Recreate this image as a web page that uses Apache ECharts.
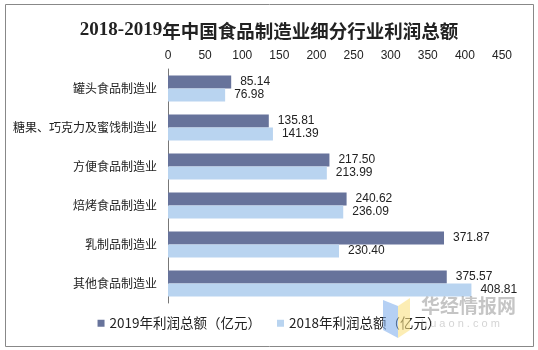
<!DOCTYPE html>
<html>
<head>
<meta charset="utf-8">
<script src="https://cdn.jsdelivr.net/npm/echarts@6/dist/echarts.min.js"></script>
<style>
html,body{margin:0;padding:0;background:#fff;}
#main{width:538px;height:350px;}
</style>
</head>
<body>
<div id="main"></div>
<script>
var categories = ['罐头食品制造业', '糖果、巧克力及蜜饯制造业', '方便食品制造业', '焙烤食品制造业', '乳制品制造业', '其他食品制造业'];
var profit2019 = [85.14, 135.81, 217.50, 240.62, 371.87, 375.57];
var profit2018 = [76.98, 141.39, 213.99, 236.09, 230.40, 408.81];
var seriesNames = ['2019年利润总额（亿元）', '2018年利润总额（亿元）'];
var xTicks = { min: 0, max: 450, interval: 50 };

var chart = echarts.init(document.getElementById('main'));
var labelStyle = {
  show: true, position: 'right', distance: 9,
  fontSize: 12, color: '#222', fontFamily: 'Liberation Sans, Arial, sans-serif',
  formatter: function (p) { return p.value.toFixed(2); }
};
chart.setOption({
  backgroundColor: '#fff',
  animation: false,
  title: {
    text: '{a|2018-2019}{b|年中国食品制造业细分行业利润总额}',
    left: 'center', top: 16,
    textStyle: {
      rich: {
        a: { fontSize: 19, fontWeight: 'bold', fontFamily: 'Liberation Serif, serif', color: '#222' },
        b: { fontSize: 18.5, fontWeight: 'bold', fontFamily: 'Noto Sans CJK SC', color: '#222' }
      }
    }
  },
  legend: {
    data: seriesNames,
    bottom: 15, left: 'center',
    icon: 'rect', itemWidth: 7, itemHeight: 7, itemGap: 16,
    textStyle: { fontSize: 13.5, color: '#222', fontFamily: 'Noto Sans CJK SC' }
  },
  grid: { left: 168, right: 36, top: 69, bottom: 47, containLabel: false },
  xAxis: {
    type: 'value', position: 'top',
    min: xTicks.min, max: xTicks.max, interval: xTicks.interval,
    axisLine: { show: false }, axisTick: { show: false }, splitLine: { show: false },
    axisLabel: { fontSize: 12, color: '#222', margin: 7, fontFamily: 'Liberation Sans, Arial, sans-serif' }
  },
  yAxis: {
    type: 'category', inverse: true, data: categories,
    axisLine: { show: true, lineStyle: { color: '#777', width: 1 } },
    axisTick: { show: false },
    axisLabel: { fontSize: 12, color: '#222', margin: 11, fontFamily: 'Noto Sans CJK SC' }
  },
  series: [
    { name: seriesNames[0], type: 'bar', data: profit2019, barWidth: 13, barGap: '0%',
      itemStyle: { color: '#67739B' }, label: labelStyle },
    { name: seriesNames[1], type: 'bar', data: profit2018, barWidth: 13, barGap: '0%',
      itemStyle: { color: '#B9D4F0' }, label: labelStyle }
  ],
  graphic: [
    { type: 'rect', shape: { x: 5.5, y: 4.5, width: 528, height: 342 }, style: { fill: 'none', stroke: '#888', lineWidth: 1 }, silent: true, z: 100 },
    { type: 'polygon', shape: { points: [[383, 300], [398, 306], [398, 338], [383, 330]] }, style: { fill: 'rgba(120,170,235,0.55)' }, silent: true, z: 50 },
    { type: 'polygon', shape: { points: [[398, 306], [410, 298], [410, 330], [398, 338]] }, style: { fill: 'rgba(250,225,130,0.6)' }, silent: true, z: 50 },
    { type: 'text', left: 421, top: 296, style: { text: '华经情报网', fontSize: 19, fontWeight: 'bold', fill: 'rgba(150,150,150,0.55)', fontFamily: 'Noto Sans CJK SC' }, silent: true, z: 50 },
    { type: 'text', left: 421, top: 318, style: { text: 'h u a o n . c o m', fontSize: 11, fill: 'rgba(160,160,160,0.45)', fontFamily: 'Liberation Sans, Arial' }, silent: true, z: 50 }
  ]
});
</script>
</body>
</html>
